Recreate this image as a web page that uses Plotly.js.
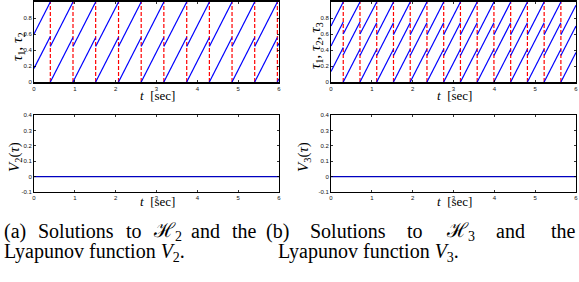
<!DOCTYPE html>
<html>
<head>
<meta charset="utf-8">
<script src="https://cdn.plot.ly/plotly-3.0.1.min.js"></script>
<style>
html,body{margin:0;padding:0;background:#fff;}
#plot{width:579px;height:282px;}
</style>
</head>
<body>
<div id="plot"></div>
<script>
// ---------- data ----------
const xTicks = [0, 1, 2, 3, 4, 5, 6];
const tauTicks = [0, 0.2, 0.4, 0.6, 0.8, 1];
const tauTickText = ['0', '0.2', '0.4', '0.6', '0.8', '1'];
const vTicks = [-0.1, 0, 0.1, 0.2, 0.3, 0.4];
const vTickText = ['-0.1', '0', '0.1', '0.2', '0.3', '0.4'];

// H2: two timers
const h2_t = [0,0.40,null, 0.40,0.955,null, 0.955,1.51,null, 1.51,2.07,null, 2.07,2.625,null, 2.625,3.18,null, 3.18,3.74,null, 3.74,4.295,null, 4.295,4.85,null, 4.85,5.405,null, 5.405,5.96,null, 5.96,6];
const h2_tau1 = [0.60,1.00,null, 0,0.555,null, 0.444,1.00,null, 0,0.56,null, 0.445,1.00,null, 0,0.555,null, 0.444,1.00,null, 0,0.555,null, 0.444,1.00,null, 0,0.555,null, 0.444,1.00,null, 0,0.04];
const h2_tau2 = [0.17,0.57,null, 0.445,1.00,null, 0,0.555,null, 0.444,1.00,null, 0,0.555,null, 0.444,1.00,null, 0,0.56,null, 0.445,1.00,null, 0,0.555,null, 0.444,1.00,null, 0,0.555,null, 0.444,0.484];
const h2_jumps = [0.40, 0.955, 1.51, 2.07, 2.625, 3.18, 3.74, 4.295, 4.85, 5.405, 5.96];

// H3: three timers
const h3_t = [0,0.30,null, 0.30,0.71,null, 0.71,1.12,null, 1.12,1.53,null, 1.53,1.94,null, 1.94,2.35,null, 2.35,2.76,null, 2.76,3.17,null, 3.17,3.58,null, 3.58,3.99,null, 3.99,4.40,null, 4.40,4.81,null, 4.81,5.22,null, 5.22,5.63,null, 5.63,6];
const h3_tau1 = [0.70,1.00,null, 0,0.41,null, 0.33,0.74,null, 0.59,1.00,null, 0,0.41,null, 0.33,0.74,null, 0.59,1.00,null, 0,0.41,null, 0.33,0.74,null, 0.59,1.00,null, 0,0.41,null, 0.33,0.74,null, 0.59,1.00,null, 0,0.41,null, 0.33,0.70];
const h3_tau2 = [0.45,0.75,null, 0.60,1.00,null, 0,0.41,null, 0.33,0.74,null, 0.59,1.00,null, 0,0.41,null, 0.33,0.74,null, 0.59,1.00,null, 0,0.41,null, 0.33,0.74,null, 0.59,1.00,null, 0,0.41,null, 0.33,0.74,null, 0.59,1.00,null, 0,0.37];
const h3_tau3 = [0.13,0.43,null, 0.34,0.75,null, 0.60,1.00,null, 0,0.41,null, 0.33,0.74,null, 0.59,1.00,null, 0,0.41,null, 0.33,0.74,null, 0.59,1.00,null, 0,0.41,null, 0.33,0.74,null, 0.59,1.00,null, 0,0.41,null, 0.33,0.74,null, 0.59,0.96];
const h3_jumps = [0.30, 0.71, 1.12, 1.53, 1.94, 2.35, 2.76, 3.17, 3.58, 3.99, 4.40, 4.81, 5.22, 5.63];

// Lyapunov functions
const v_t = [0, 6];
const v2 = [0, 0];
const v3 = [0, 0];

// ---------- build ----------
function jumpLines(js) {
  const x = [], y = [];
  js.forEach(j => { x.push(j, j, null); y.push(0, 1, null); });
  return {x, y};
}
const BLUE = '#0000ff';
const RED = '#ff0000';
function sawTrace(t, y, xa, ya) {
  return {x: t, y: y, xaxis: xa, yaxis: ya, type: 'scatter', mode: 'lines',
          line: {color: BLUE, width: 1.2}, connectgaps: false, hoverinfo: 'skip', showlegend: false};
}
function jumpTrace(js, xa, ya) {
  const d = jumpLines(js);
  return {x: d.x, y: d.y, xaxis: xa, yaxis: ya, type: 'scatter', mode: 'lines',
          line: {color: RED, width: 1.2, dash: '4px,2px'}, connectgaps: false, hoverinfo: 'skip', showlegend: false};
}
const traces = [
  jumpTrace(h2_jumps, 'x', 'y'),
  sawTrace(h2_t, h2_tau1, 'x', 'y'),
  sawTrace(h2_t, h2_tau2, 'x', 'y'),
  jumpTrace(h3_jumps, 'x2', 'y2'),
  sawTrace(h3_t, h3_tau1, 'x2', 'y2'),
  sawTrace(h3_t, h3_tau2, 'x2', 'y2'),
  sawTrace(h3_t, h3_tau3, 'x2', 'y2'),
  {x: v_t, y: v2, xaxis: 'x3', yaxis: 'y3', type: 'scatter', mode: 'lines', line: {color: '#0000c0', width: 1.2}, showlegend: false, hoverinfo: 'skip'},
  {x: v_t, y: v3, xaxis: 'x4', yaxis: 'y4', type: 'scatter', mode: 'lines', line: {color: '#0000c0', width: 1.2}, showlegend: false, hoverinfo: 'skip'}
];

const W = 579, H = 282;
const px = v => v / W;
const py = v => 1 - v / H;
const tickFont = {family: 'Liberation Sans, Arial, sans-serif', size: 6, color: '#111'};
function ax(extra) {
  return Object.assign({
    showline: true, linecolor: '#000', linewidth: 1, mirror: 'ticks',
    ticks: 'inside', ticklen: 2, tickwidth: 0.8, tickcolor: '#000',
    showgrid: false, zeroline: false, tickfont: tickFont, fixedrange: true
  }, extra);
}
const xL = [px(34), px(279)], xR = [px(331), px(576)];
const yT = [py(82), py(2)], yB = [py(192), py(115)];

const serif = 'Liberation Serif, Times New Roman, serif';
const ann = [];
function A(text, x, y, size, opts) {
  ann.push(Object.assign({text: text, x: px(x), y: py(y), xref: 'paper', yref: 'paper',
    showarrow: false, font: {family: serif, size: size, color: '#000'}, xanchor: 'center', yanchor: 'middle'}, opts || {}));
}
// axis titles
A('<i>t</i>  [sec]', 157, 95, 13);
A('<i>t</i>  [sec]', 454, 95, 13);
A('<i>t</i>  [sec]', 157, 201, 13);
A('<i>t</i>  [sec]', 454, 201, 13);
A('<i>τ</i><sub>1</sub>, <i>τ</i><sub>2</sub>', 18, 47, 15, {textangle: -90});
A('<i>τ</i><sub>1</sub>, <i>τ</i><sub>2</sub>, <i>τ</i><sub>3</sub>', 316, 46, 15, {textangle: -90});
A('<i>V</i><sub>2</sub>(<i>τ</i>)', 15, 157, 15, {textangle: -90});
A('<i>V</i><sub>3</sub>(<i>τ</i>)', 304, 157, 15, {textangle: -90});

// captions (word by word, justified line)
const capL1 = [['(a)', 2], ['Solutions', 36], ['to', 124], ['ℋ<sub>2</sub>', 151], ['and', 189], ['the', 230]];
const capR1 = [['(b)', 264], ['Solutions', 308], ['to', 405], ['ℋ<sub>3</sub>', 444], ['and', 494], ['the', 549]];
capL1.concat(capR1).forEach(w => A(w[0], w[1], 231, 20, {xanchor: 'left'}));
A('Lyapunov function <i>V</i><sub>2</sub>.', 2, 252, 20, {xanchor: 'left'});
A('Lyapunov function <i>V</i><sub>3</sub>.', 276, 252, 20, {xanchor: 'left'});

const layout = {
  width: W, height: H,
  margin: {l: 0, r: 0, t: 0, b: 0},
  paper_bgcolor: '#fff', plot_bgcolor: '#fff',
  showlegend: false,
  xaxis:  ax({domain: xL, range: [0, 6], anchor: 'y',  tickvals: xTicks, linewidth: 1.6}),
  yaxis:  ax({domain: yT, range: [0, 1], anchor: 'x',  tickvals: tauTicks, ticktext: tauTickText}),
  xaxis2: ax({domain: xR, range: [0, 6], anchor: 'y2', tickvals: xTicks, linewidth: 1.6}),
  yaxis2: ax({domain: yT, range: [0, 1], anchor: 'x2', tickvals: tauTicks, ticktext: tauTickText}),
  xaxis3: ax({domain: xL, range: [0, 6], anchor: 'y3', tickvals: xTicks, linewidth: 1.2}),
  yaxis3: ax({domain: yB, range: [-0.1, 0.4], anchor: 'x3', tickvals: vTicks, ticktext: vTickText}),
  xaxis4: ax({domain: xR, range: [0, 6], anchor: 'y4', tickvals: xTicks, linewidth: 1.2}),
  yaxis4: ax({domain: yB, range: [-0.1, 0.4], anchor: 'x4', tickvals: vTicks, ticktext: vTickText}),
  annotations: ann
};
Plotly.newPlot('plot', traces, layout, {displayModeBar: false, staticPlot: true});
</script>
</body>
</html>
